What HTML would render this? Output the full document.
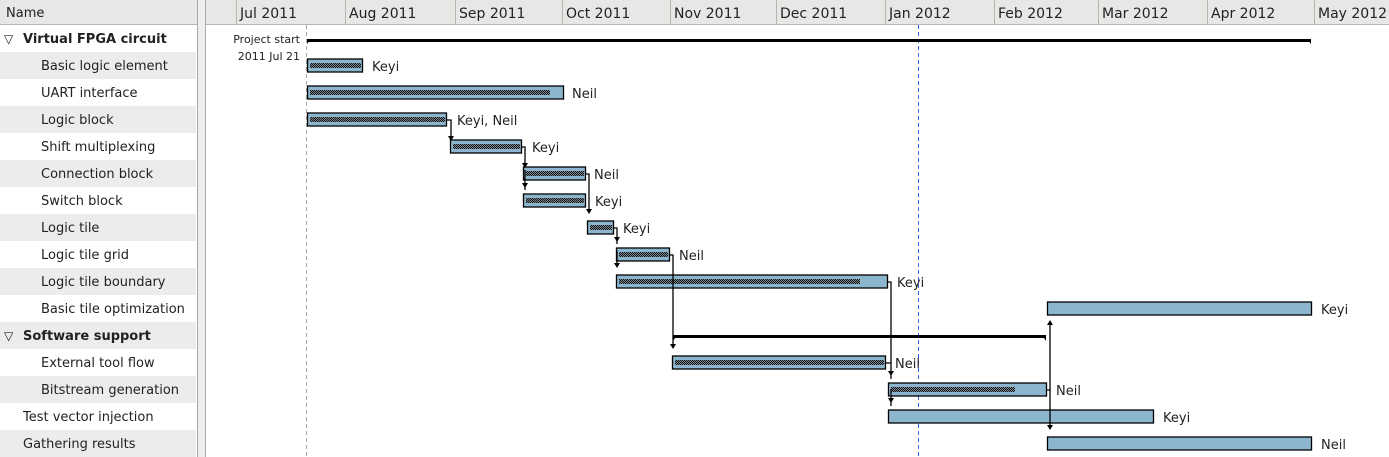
<!DOCTYPE html>
<html><head><meta charset="utf-8"><style>
html,body{margin:0;padding:0;background:#fff;}
svg{display:block;font-family:"DejaVu Sans","Liberation Sans",sans-serif;}
</style></head><body>
<svg width="1389" height="457" xmlns="http://www.w3.org/2000/svg">
<defs>
<pattern id="ck" width="2" height="2" patternUnits="userSpaceOnUse">
<rect width="2" height="2" fill="#7a8a94"/><rect width="1" height="1" fill="#111"/><rect x="1" y="1" width="1" height="1" fill="#111"/>
</pattern>
</defs>
<rect x="0" y="0" width="1389" height="24" fill="#e8e7e6"/>
<line x1="0" y1="24.5" x2="1389" y2="24.5" stroke="#b8b6b3"/>
<text x="6" y="17" font-size="13" fill="#222">Name</text>
<g fill="#ececec">
<rect x="0" y="52" width="196" height="27"/>
<rect x="0" y="106" width="196" height="27"/>
<rect x="0" y="160" width="196" height="27"/>
<rect x="0" y="214" width="196" height="27"/>
<rect x="0" y="268" width="196" height="27"/>
<rect x="0" y="322" width="196" height="27"/>
<rect x="0" y="376" width="196" height="27"/>
<rect x="0" y="430" width="196" height="27"/>
</g>
<g font-size="13" fill="#222">
<text x="4" y="43" font-size="12">▽</text>
<text x="23" y="43" font-weight="bold">Virtual FPGA circuit</text>
<text x="41" y="70">Basic logic element</text>
<text x="41" y="97">UART interface</text>
<text x="41" y="124">Logic block</text>
<text x="41" y="151">Shift multiplexing</text>
<text x="41" y="178">Connection block</text>
<text x="41" y="205">Switch block</text>
<text x="41" y="232">Logic tile</text>
<text x="41" y="259">Logic tile grid</text>
<text x="41" y="286">Logic tile boundary</text>
<text x="41" y="313">Basic tile optimization</text>
<text x="4" y="340" font-size="12">▽</text>
<text x="23" y="340" font-weight="bold">Software support</text>
<text x="41" y="367">External tool flow</text>
<text x="41" y="394">Bitstream generation</text>
<text x="23" y="421">Test vector injection</text>
<text x="23" y="448">Gathering results</text>
</g>
<rect x="197" y="0" width="8" height="457" fill="#efeeed"/>
<line x1="197.5" y1="0" x2="197.5" y2="457" stroke="#aaa"/>
<line x1="205.5" y1="0" x2="205.5" y2="457" stroke="#aaa"/>
<rect x="206" y="0" width="1183" height="24" fill="#e8e7e6"/>
<line x1="206" y1="24.5" x2="1389" y2="24.5" stroke="#b8b6b3"/>
<g stroke="#b8b6b3">
<line x1="236.5" y1="0" x2="236.5" y2="24"/><line x1="345.5" y1="0" x2="345.5" y2="24"/>
<line x1="455.5" y1="0" x2="455.5" y2="24"/><line x1="562.5" y1="0" x2="562.5" y2="24"/>
<line x1="670.5" y1="0" x2="670.5" y2="24"/><line x1="776.5" y1="0" x2="776.5" y2="24"/>
<line x1="885.5" y1="0" x2="885.5" y2="24"/><line x1="994.5" y1="0" x2="994.5" y2="24"/>
<line x1="1098.5" y1="0" x2="1098.5" y2="24"/><line x1="1207.5" y1="0" x2="1207.5" y2="24"/>
<line x1="1314.5" y1="0" x2="1314.5" y2="24"/>
</g>
<g font-size="14" fill="#222">
<text x="240" y="18">Jul 2011</text><text x="349" y="18">Aug 2011</text>
<text x="459" y="18">Sep 2011</text><text x="566" y="18">Oct 2011</text>
<text x="674" y="18">Nov 2011</text><text x="780" y="18">Dec 2011</text>
<text x="889" y="18">Jan 2012</text><text x="998" y="18">Feb 2012</text>
<text x="1102" y="18">Mar 2012</text><text x="1211" y="18">Apr 2012</text>
<text x="1318" y="18">May 2012</text>
</g>
<line x1="306.5" y1="25" x2="306.5" y2="457" stroke="#aaa" stroke-dasharray="4,3"/>
<line x1="918.5" y1="25" x2="918.5" y2="457" stroke="#3366ee" stroke-dasharray="4,3"/>
<text x="300" y="43" font-size="11" text-anchor="end" fill="#222">Project start</text>
<text x="300" y="60" font-size="11" text-anchor="end" fill="#222">2011 Jul 21</text>
<rect x="307" y="39" width="1004" height="3" fill="#000"/>
<path d="M307 39 L311 39 L307 44Z M1311 39 L1307 39 L1311 44Z" fill="#000"/>
<rect x="673" y="335" width="373" height="3" fill="#000"/>
<path d="M673 335 L677 335 L673 341Z M1046 335 L1042 335 L1046 341Z" fill="#000"/>
<g fill="#8cb6ce" stroke="#000" stroke-width="1.3">
<rect x="307.5" y="59" width="55" height="13"/>
<rect x="307.5" y="86" width="256" height="13"/>
<rect x="307.5" y="113" width="139" height="13"/>
<rect x="450.5" y="140" width="71" height="13"/>
<rect x="523.5" y="167" width="62" height="13"/>
<rect x="523.5" y="194" width="62" height="13"/>
<rect x="587.5" y="221" width="26" height="13"/>
<rect x="616.5" y="248" width="53" height="13"/>
<rect x="616.5" y="275" width="271" height="13"/>
<rect x="1047.5" y="302" width="264" height="13"/>
<rect x="672.5" y="356" width="213" height="13"/>
<rect x="888.5" y="383" width="158" height="13"/>
<rect x="888.5" y="410" width="265" height="13"/>
<rect x="1047.5" y="437" width="264" height="13"/>
</g>
<g fill="url(#ck)">
<rect x="310" y="63" width="51" height="5"/>
<rect x="310" y="90" width="240" height="5"/>
<rect x="310" y="117" width="135" height="5"/>
<rect x="453" y="144" width="67" height="5"/>
<rect x="526" y="171" width="58" height="5"/>
<rect x="526" y="198" width="58" height="5"/>
<rect x="590" y="225" width="22" height="5"/>
<rect x="619" y="252" width="49" height="5"/>
<rect x="619" y="279" width="241" height="5"/>
<rect x="675" y="360" width="209" height="5"/>
<rect x="891" y="387" width="124" height="5"/>
</g>
<g stroke="#000" stroke-width="1.3" fill="none">
<path d="M447 120 H451 V136"/>
<path d="M522 147 H525 V163"/>
<path d="M525 170 V190"/>
<path d="M586 174 H589 V209"/>
<path d="M614 228 H617 V244"/>
<path d="M617 251 V265"/>
<path d="M670 255 H673 V346"/>
<path d="M888 282 H891 V379"/>
<path d="M886 363 H891"/>
<path d="M891 389 V406"/>
<path d="M1047 390 H1050 V325"/>
<path d="M1050 390 V427"/>
</g>
<g fill="#000">
<path d="M448 136 L454 136 L451 141Z"/>
<path d="M522 163 L528 163 L525 168Z"/>
<path d="M522 183 L528 183 L525 188Z"/>
<path d="M586 209 L592 209 L589 214Z"/>
<path d="M614 237 L620 237 L617 242Z"/>
<path d="M614 263 L620 263 L617 268Z"/>
<path d="M670 344 L676 344 L673 349Z"/>
<path d="M888 371 L894 371 L891 376Z"/>
<path d="M888 398 L894 398 L891 403Z"/>
<path d="M1047 325 L1053 325 L1050 320Z"/>
<path d="M1047 425 L1053 425 L1050 430Z"/>
</g>
<g font-size="13" fill="#222">
<text x="372" y="71">Keyi</text>
<text x="572" y="98">Neil</text>
<text x="457" y="125">Keyi, Neil</text>
<text x="532" y="152">Keyi</text>
<text x="594" y="179">Neil</text>
<text x="595" y="206">Keyi</text>
<text x="623" y="233">Keyi</text>
<text x="679" y="260">Neil</text>
<text x="897" y="287">Keyi</text>
<text x="1321" y="314">Keyi</text>
<text x="895" y="368">Neil</text>
<text x="1056" y="395">Neil</text>
<text x="1163" y="422">Keyi</text>
<text x="1321" y="449">Neil</text>
</g>
</svg>
</body></html>
